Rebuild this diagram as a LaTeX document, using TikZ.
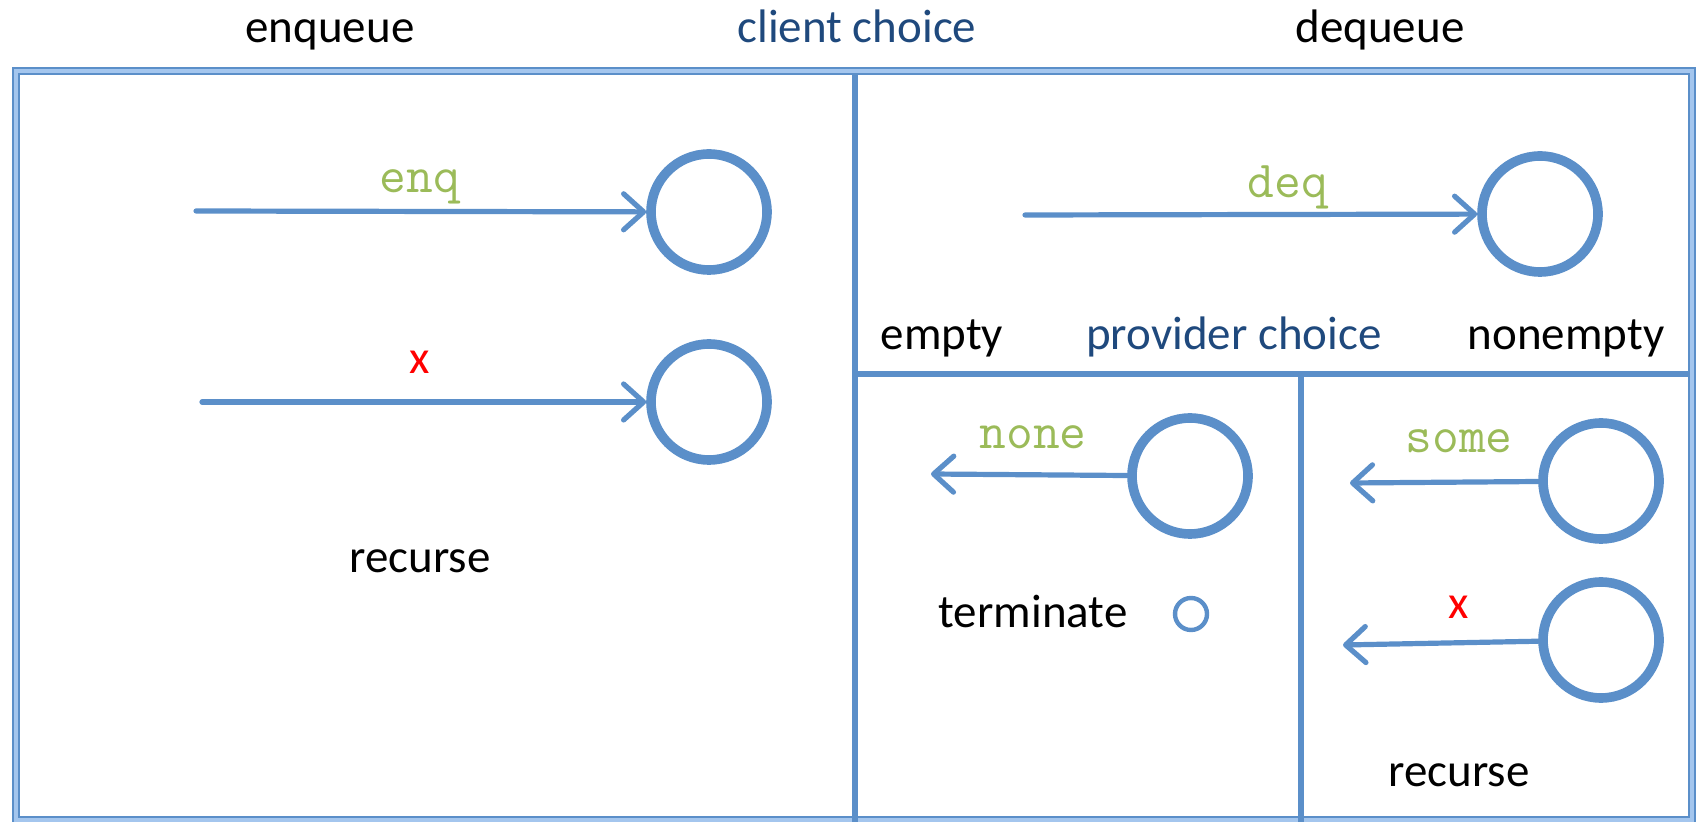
\documentclass[tikz,border=0pt]{standalone}
\usepackage{fontspec}
\setmainfont{Carlito}
\usetikzlibrary{arrows.meta}
\definecolor{lineblue}{HTML}{5B8FC9}
\definecolor{lightblue}{HTML}{A4C6EE}
\definecolor{txtblue}{HTML}{1F497D}
\definecolor{msggreen}{HTML}{9BBB59}
\definecolor{xred}{HTML}{FF0000}
\begin{document}
\begin{tikzpicture}[x=0.5pt,y=-0.5pt,
  lbl/.style={anchor=base,inner sep=0pt,font=\fontsize{23.5}{28}\selectfont},
  msg/.style={anchor=base,inner sep=0pt,text=msggreen,font=\fontsize{26}{30}\selectfont\ttfamily},
  xlbl/.style={anchor=base,inner sep=0pt,text=xred,font=\fontsize{23.5}{28}\selectfont},
  chan/.style={circle,draw=lineblue,line width=4.8pt,minimum size=58pt,inner sep=0pt,
     append after command={\pgfextra{\draw[lightblue,line width=1.4pt] (\tikzlastnode.center) circle (28.4pt);}}},
  small/.style={circle,draw=lineblue,line width=2.2pt,minimum size=16pt,inner sep=0pt},
  msgarrow/.style={draw=lineblue,line width=2.6pt,line cap=round,
     -{Straight Barb[length=10pt,width=18pt,line cap=round,line join=round]}},
  divider/.style={draw=lineblue,line width=2.8pt}]
\useasboundingbox (0,0) rectangle (1696,822);
% outer frame
\draw[lineblue,line width=4.2pt] (16,71) rectangle (1692,820);
\draw[lightblue,line width=2pt] (16,71) rectangle (1692,820);
% dividers
\coordinate (v1t) at (855,75);
\coordinate (v1b) at (855,822);
\coordinate (h1l) at (855,374);
\coordinate (h1r) at (1690,374);
\coordinate (v2t) at (1301,374);
\coordinate (v2b) at (1301,822);
\draw[divider] (v1t) -- (v1b);
\draw[divider] (h1l) -- (h1r);
\draw[divider] (v2t) -- (v2b);
% top labels
\node[lbl] (enqueue) at (330,43) {enqueue};
\node[lbl,text=txtblue] (client) at (857,43) {client choice};
\node[lbl] (dequeue) at (1380,43) {dequeue};
% enqueue side
\node[chan] (c1) at (709,212) {};
\node[chan] (c2) at (709,402) {};
\coordinate (s1) at (196,211);
\coordinate (s2) at (202,402);
\draw[msgarrow] (s1) -- (c1);
\draw[msgarrow] (s2) -- (c2);
\node[msg] (enq) at (420,193) {enq};
\node[xlbl] (x1) at (420,374) {x};
\node[lbl] (rec1) at (420,573) {recurse};
% dequeue
\node[chan] (c3) at (1540,214) {};
\coordinate (s3) at (1025,215);
\draw[msgarrow] (s3) -- (c3);
\node[msg] (deq) at (1288,198) {deq};
\node[lbl] (empty) at (942,350) {empty};
\node[lbl,text=txtblue] (prov) at (1234,350) {provider choice};
\node[lbl] (nonempty) at (1566,350) {nonempty};
% empty branch
\node[chan] (c4) at (1190,476) {};
\coordinate (e4) at (931,474);
\draw[msgarrow] (c4) -- (e4);
\node[msg] (none) at (1033,449) {none};
\node[lbl] (term) at (1033,628) {terminate};
\node[small] (tc) at (1191,614) {};
% nonempty branch
\node[chan] (c5) at (1601,481) {};
\coordinate (e5) at (1350,483);
\draw[msgarrow] (c5) -- (e5);
\node[msg] (some) at (1459,453) {some};
\node[chan] (c6) at (1601,640) {};
\coordinate (e6) at (1343,645);
\draw[msgarrow] (c6) -- (e6);
\node[xlbl] (x2) at (1459,618) {x};
\node[lbl] (rec2) at (1459,786) {recurse};
\end{tikzpicture}
\end{document}
